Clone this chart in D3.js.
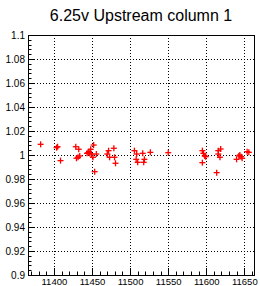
<!DOCTYPE html>
<html><head><meta charset="utf-8">
<script src="https://cdn.jsdelivr.net/npm/d3@7"></script>
<style>body{margin:0;background:#fff;} svg{display:block;} text{font-family:"Liberation Sans",Arial,sans-serif;}</style>
</head><body>
<svg id="c" width="260" height="286"></svg>
<script>
const title = "6.25v Upstream column 1";
const xTicks = [11400, 11450, 11500, 11550, 11600, 11650];
const yTicks = [0.9, 0.92, 0.94, 0.96, 0.98, 1, 1.02, 1.04, 1.06, 1.08, 1.1];
const xDomain = [11366, 11664];
const yDomain = [0.9, 1.1];
const xs = [11382.6, 11404.8, 11403.5, 11408.7, 11428.7, 11432.6, 11431.7, 11433.9, 11429.6,
  11443.5, 11445, 11446.1, 11447, 11448.3, 11449.2, 11452.2, 11451.3, 11455.7, 11453.5,
  11471.8, 11470.1, 11473.1, 11478.7, 11479.6, 11480.9,
  11505.7, 11508, 11510, 11516.6, 11517.9, 11518.8, 11508.7, 11526.6,
  11550.1,
  11594.9, 11596.2, 11598, 11599.3, 11594.9,
  11613.7, 11615.8, 11618.9, 11615.8, 11618,
  11639.8, 11644.1, 11645.8, 11647.1, 11642.8,
  11653.7, 11655.9];
const ys = [1.0089, 1.0069, 1.0061, 0.9953, 1.0069, 1.0048, 0.9981, 0.9992, 0.9973,
  1.0014, 1.002, 1.0028, 1.0012, 1.0048, 1.0008, 1.0083, 0.9981, 1.0008, 0.9861,
  1.0036, 1.0008, 0.9981, 1.0056, 0.9981, 0.9931,
  1.0036, 0.9964, 0.9939, 1.0014, 0.9939, 0.9964, 1.0008, 1.0022,
  1.0019,
  1.0036, 1.0014, 0.9992, 0.9986, 0.9936,
  0.9853, 1.0036, 1.005, 1.0008, 0.9981,
  0.9964, 1.0, 0.9986, 0.9973, 0.9992,
  1.0028, 1.0022];

const L = 28, R = 255, T = 35, B = 275;
const svg = d3.select("#c");
const x = d3.scaleLinear().domain(xDomain).range([L, R]);
const y = d3.scaleLinear().domain(yDomain).range([B, T]);

// grid
const g = svg.append("g");
g.selectAll("line.gx").data(xTicks).join("line")
  .attr("x1", d => Math.round(x(d)) + 0.5).attr("x2", d => Math.round(x(d)) + 0.5)
  .attr("y1", T).attr("y2", B)
  .attr("stroke", "#000").attr("stroke-width", 1).attr("stroke-dasharray", "1,2");
g.selectAll("line.gy").data(yTicks.slice(1, -1)).join("line")
  .attr("y1", d => Math.round(y(d)) + 0.5).attr("y2", d => Math.round(y(d)) + 0.5)
  .attr("x1", L).attr("x2", R)
  .attr("stroke", "#000").attr("stroke-width", 1).attr("stroke-dasharray", "1,2");

// minor ticks
const xMinor = d3.range(11370, 11661, 10);
svg.append("g").selectAll("line").data(xMinor).join("line")
  .attr("x1", d => Math.round(x(d)) + 0.5).attr("x2", d => Math.round(x(d)) + 0.5)
  .attr("y1", B).attr("y2", d => B - (d % 50 === 0 ? 7 : 3.5))
  .attr("stroke", "#000");
const yMinor = d3.range(0, 51).map(i => 0.9 + i * 0.004);
svg.append("g").selectAll("line").data(yMinor).join("line")
  .attr("y1", d => Math.round(y(d)) + 0.5).attr("y2", d => Math.round(y(d)) + 0.5)
  .attr("x1", L).attr("x2", (d, i) => L + (i % 5 === 0 ? 7 : 3.5))
  .attr("stroke", "#000");

// axes labels
const xa = d3.axisBottom(x).tickValues(xTicks).tickSize(0).tickPadding(0).tickFormat(d3.format("d"));
svg.append("g").attr("transform", `translate(0,${B + 3})`).call(xa)
  .call(s => s.select(".domain").remove())
  .selectAll("text").attr("font-size", "9.5px").attr("fill", "#000").attr("dy", "0.71em")
  .style("font-family", "Liberation Sans, Arial, sans-serif");
const ya = d3.axisLeft(y).tickValues(yTicks).tickSize(0).tickPadding(3).tickFormat(d => String(+d.toFixed(2)));
svg.append("g").attr("transform", `translate(${L},0)`).call(ya)
  .call(s => s.select(".domain").remove())
  .selectAll("text").attr("font-size", "10px").attr("fill", "#000")
  .style("font-family", "Liberation Sans, Arial, sans-serif");

// frame
svg.append("rect").attr("x", L + 0.5).attr("y", T + 0.5).attr("width", R - L - 1).attr("height", B - T)
  .attr("fill", "none").attr("stroke", "#000").attr("stroke-width", 1);

// points
const pts = xs.map((v, i) => [v, ys[i]]);
const mk = svg.append("g").attr("stroke", "#ff0000").attr("stroke-width", 1.3);
pts.forEach(p => {
  const cx = x(p[0]), cy = y(p[1]);
  mk.append("line").attr("x1", cx - 3).attr("x2", cx + 3).attr("y1", cy).attr("y2", cy);
  mk.append("line").attr("x1", cx).attr("x2", cx).attr("y1", cy - 3).attr("y2", cy + 3);
});

svg.append("text").attr("x", 141).attr("y", 21).attr("text-anchor", "middle")
  .attr("font-size", "16px").attr("fill", "#000").text(title);
</script>
</body></html>
